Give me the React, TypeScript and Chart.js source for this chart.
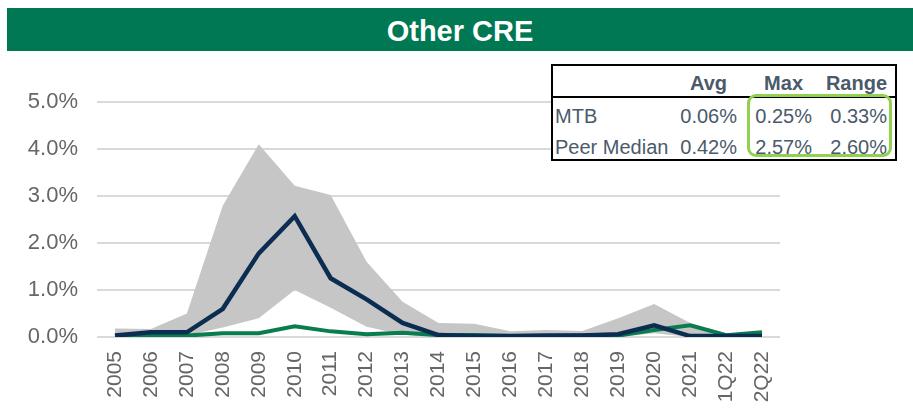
import React, { useEffect, useRef } from 'react';
import { Chart, registerables } from 'chart.js';

Chart.register(...registerables);

const categories = ['2005', '2006', '2007', '2008', '2009', '2010', '2011', '2012', '2013', '2014', '2015', '2016', '2017', '2018', '2019', '2020', '2021', '1Q22', '2Q22'];
const peerUpper = [0.18, 0.17, 0.5, 2.8, 4.1, 3.22, 3.02, 1.6, 0.75, 0.3, 0.28, 0.12, 0.15, 0.13, 0.4, 0.7, 0.3, 0.08, 0.05];
const peerLower = [0.0, 0.02, 0.03, 0.2, 0.4, 1.0, 0.62, 0.22, 0.05, 0.0, 0.0, 0.0, 0.0, 0.0, 0.0, 0.08, 0.0, 0.0, 0.0];
const peerMedian = [0.03, 0.1, 0.1, 0.6, 1.78, 2.57, 1.25, 0.8, 0.3, 0.04, 0.02, 0.02, 0.03, 0.03, 0.06, 0.25, 0.02, 0.02, 0.02];
const mtb = [0.02, 0.03, 0.03, 0.08, 0.08, 0.23, 0.12, 0.06, 0.09, 0.04, 0.04, 0.02, 0.02, 0.03, 0.03, 0.15, 0.25, 0.04, 0.1];
const yMin = 0;
const yMax = 5;
const yStep = 1;

const tableHeaders = ['Avg', 'Max', 'Range'];
const tableRowLabels = ['MTB', 'Peer Median'];
const tableAvg = ['0.06%', '0.42%'];
const tableMax = ['0.25%', '2.57%'];
const tableRange = ['0.33%', '2.60%'];

const FONT = "'Liberation Sans', Arial, sans-serif";
const TEXT = '#4A5A6A';

export default function App() {
  const ref = useRef<HTMLCanvasElement | null>(null);

  useEffect(() => {
    if (!ref.current) return;
    const chart = new Chart(ref.current, {
      type: 'line',
      data: {
        labels: categories,
        datasets: [
          {
            label: 'Peer Median',
            data: peerMedian,
            borderColor: '#0B2D52',
            borderWidth: 4.5,
            pointRadius: 0,
            tension: 0,
            fill: false,
            order: 0,
          },
          {
            label: 'MTB',
            data: mtb,
            borderColor: '#0A7D4F',
            borderWidth: 4,
            pointRadius: 0,
            tension: 0,
            fill: false,
            order: 1,
          },
          {
            label: 'Upper',
            data: peerUpper,
            borderColor: 'rgba(0,0,0,0)',
            borderWidth: 0,
            backgroundColor: '#C6C6C6',
            pointRadius: 0,
            tension: 0,
            fill: '+1',
            order: 2,
          },
          {
            label: 'Lower',
            data: peerLower,
            borderColor: 'rgba(0,0,0,0)',
            borderWidth: 0,
            pointRadius: 0,
            tension: 0,
            fill: false,
            order: 3,
          },
        ],
      },
      options: {
        animation: false,
        responsive: false,
        devicePixelRatio: 1,
        layout: { padding: { top: 102, right: 133, left: 0, bottom: 0 } },
        plugins: {
          legend: { display: false },
          tooltip: { enabled: false },
          title: { display: false },
        },
        scales: {
          x: {
            offset: true,
            grid: { display: false, drawTicks: false, offset: true },
            border: { display: false },
            ticks: {
              color: '#666666',
              font: { family: FONT, size: 21 },
              maxRotation: 90,
              minRotation: 90,
              padding: 14,
              autoSkip: false,
            },
            afterFit: (s: any) => {
              s.height = 72;
            },
          },
          y: {
            min: yMin,
            max: yMax,
            grid: { color: '#D9D9D9', lineWidth: 2, drawTicks: false },
            border: { display: false },
            ticks: {
              stepSize: yStep,
              padding: 19,
              color: '#666666',
              font: { family: FONT, size: 22 },
              callback: (v: any) => Number(v).toFixed(1) + '%',
            },
            afterFit: (s: any) => {
              s.width = 97;
            },
          },
        },
      },
    });
    return () => chart.destroy();
  }, []);

  const txt = (s: string, left: number | null, right: number | null, top: number, bold = false) => (
    <div
      key={s + top + (left ?? right)}
      style={{
        position: 'absolute',
        top,
        left: left ?? undefined,
        right: right != null ? 913 - right : undefined,
        fontFamily: FONT,
        fontSize: 20,
        lineHeight: '20px',
        fontWeight: bold ? 'bold' : 'normal',
        color: TEXT,
        whiteSpace: 'nowrap',
      }}
    >
      {s}
    </div>
  );

  const rowTops = [106, 137];

  return (
    <div style={{ position: 'absolute', left: 0, top: 0, width: 913, height: 409, background: '#fff', overflow: 'hidden' }}>
      <canvas ref={ref} width={913} height={409} style={{ position: 'absolute', left: 0, top: 0, width: 913, height: 409, display: 'block' }} />
      <div style={{ position: 'absolute', left: 7, top: 8, width: 906, height: 43, background: '#007853' }} />
      <div
        style={{
          position: 'absolute',
          left: 7,
          width: 906,
          top: 17,
          textAlign: 'center',
          fontFamily: FONT,
          fontWeight: 'bold',
          fontSize: 29,
          lineHeight: '29px',
          color: '#fff',
        }}
      >
        Other CRE
      </div>
      <div
        style={{
          position: 'absolute',
          left: 551,
          top: 64,
          width: 346,
          height: 97,
          border: '2px solid #000',
          boxSizing: 'border-box',
          background: '#fff',
        }}
      />
      <div style={{ position: 'absolute', left: 551, top: 96, width: 346, height: 2, background: '#000' }} />
      {txt(tableHeaders[0], null, 727, 73, true)}
      {txt(tableHeaders[1], null, 803, 73, true)}
      {txt(tableHeaders[2], null, 887, 73, true)}
      {tableRowLabels.map((l, i) => txt(l, 555, null, rowTops[i]))}
      {tableAvg.map((v, i) => txt(v, null, 737, rowTops[i]))}
      {tableMax.map((v, i) => txt(v, null, 812, rowTops[i]))}
      {tableRange.map((v, i) => txt(v, null, 887, rowTops[i]))}
      <div
        style={{
          position: 'absolute',
          left: 747,
          top: 94,
          width: 145,
          height: 63,
          border: '3px solid #92D050',
          borderRadius: 9,
          boxSizing: 'border-box',
        }}
      />
    </div>
  );
}
